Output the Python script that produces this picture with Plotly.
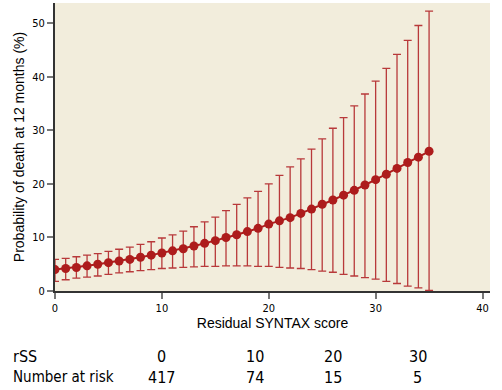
import plotly.graph_objects as go

# Data
rss = list(range(0, 36))
prob = [4.0, 4.2, 4.4, 4.7, 5.0, 5.3, 5.6, 5.9, 6.3, 6.7,
        7.1, 7.5, 7.9, 8.4, 8.9, 9.4, 10.0, 10.5, 11.1, 11.7,
        12.5, 13.1, 13.7, 14.5, 15.3, 16.2, 17.0, 17.9, 18.8, 19.8,
        20.8, 21.8, 22.9, 24.0, 25.0, 26.1]
upper = [5.9, 6.1, 6.4, 6.7, 7.0, 7.4, 7.8, 8.2, 8.7, 9.2,
         9.9, 10.5, 11.2, 12.0, 12.9, 13.8, 15.0, 16.2, 17.4, 18.6,
         20.0, 21.6, 23.2, 24.7, 26.5, 28.4, 30.4, 32.4, 34.6, 36.8,
         39.2, 41.6, 44.2, 46.8, 49.6, 52.3]
lower = [1.8, 2.1, 2.4, 2.6, 2.8, 3.1, 3.4, 3.6, 3.8, 4.0,
         4.2, 4.3, 4.4, 4.5, 4.6, 4.6, 4.7, 4.7, 4.7, 4.6,
         4.6, 4.4, 4.3, 4.2, 4.0, 3.7, 3.5, 3.1, 2.8, 2.5,
         2.2, 1.8, 1.4, 0.9, 0.6, 0.1]

table_rss = ["0", "10", "20", "30"]
table_risk = ["417", "74", "15", "5"]
x_ticks = [0, 10, 20, 30, 40]
y_ticks = [0, 10, 20, 30, 40, 50]

RED = "#ad1c1c"
COND = "DejaVu Sans Condensed, Liberation Sans Narrow, sans-serif"

fig = go.Figure()
fig.add_trace(go.Scatter(
    x=rss, y=prob, mode="lines+markers",
    line=dict(color=RED, width=2),
    marker=dict(color=RED, size=9),
    error_y=dict(type="data", symmetric=False,
                 array=[u - p for u, p in zip(upper, prob)],
                 arrayminus=[p - l for p, l in zip(prob, lower)],
                 color="#b8393a", thickness=1.3, width=4),
    showlegend=False,
))

# Number-at-risk table below the plot
col_x = [0.244, 0.460, 0.639, 0.834]
for cx, a, b in zip(col_x, table_rss, table_risk):
    fig.add_annotation(x=cx, y=-0.226, xref="paper", yref="paper", text=a,
                       showarrow=False, xanchor="center", yanchor="middle",
                       font=dict(family=COND, size=16, color="black"))
    fig.add_annotation(x=cx, y=-0.299, xref="paper", yref="paper", text=b,
                       showarrow=False, xanchor="center", yanchor="middle",
                       font=dict(family=COND, size=16, color="black"))
fig.add_annotation(x=-0.101, y=-0.226, xref="paper", yref="paper", text="rSS",
                   showarrow=False, xanchor="left", yanchor="middle",
                   font=dict(family=COND, size=16, color="black"))
fig.add_annotation(x=-0.101, y=-0.299, xref="paper", yref="paper", text="Number at risk",
                   showarrow=False, xanchor="left", yanchor="middle",
                   font=dict(family=COND, size=15, color="black"))

fig.update_layout(
    width=502, height=390,
    margin=dict(l=55, r=12, t=3, b=99),
    paper_bgcolor="white",
    plot_bgcolor="#f2eddc",
    font=dict(family="Liberation Sans, Arial, sans-serif", color="black"),
    xaxis=dict(range=[0, 40.7], tickvals=x_ticks, showgrid=False, zeroline=False,
               automargin=False,
               showline=True, linecolor="#333333", linewidth=2,
               ticks="outside", ticklen=6, tickcolor="#777777", tickwidth=2,
               tickfont=dict(family=COND, size=11),
               title=dict(text="Residual SYNTAX score", standoff=2,
                          font=dict(size=14))),
    yaxis=dict(range=[0, 53.8], tickvals=y_ticks, showgrid=False, zeroline=False,
               automargin=False,
               showline=True, linecolor="#333333", linewidth=2,
               ticks="outside", ticklen=6, tickcolor="#777777", tickwidth=2,
               tickfont=dict(family=COND, size=11),
               title=dict(text="Probability of death at 12 months (%)", standoff=4,
                          font=dict(size=14))),
)

fig.write_html("out.html", config={"displayModeBar": False},
               post_script="document.body.style.margin='0';")
